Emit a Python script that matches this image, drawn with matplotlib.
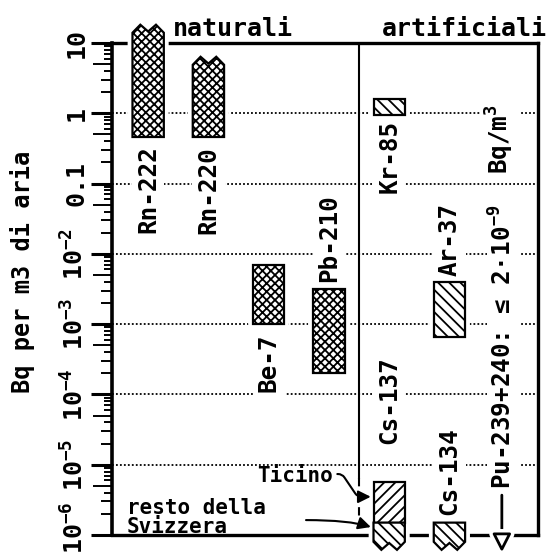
import matplotlib
matplotlib.use('Agg')
import matplotlib.pyplot as plt
import matplotlib.patheffects as pe
import matplotlib.transforms as mtransforms
from matplotlib.patches import Polygon
from matplotlib.ticker import NullLocator

plt.rcParams['font.family'] = ['DejaVu Sans Mono']
plt.rcParams['font.weight'] = 'bold'
plt.rcParams['mathtext.fontset'] = 'custom'
plt.rcParams['mathtext.rm'] = 'DejaVu Sans Mono:bold'
plt.rcParams['mathtext.it'] = 'DejaVu Sans Mono:bold'
plt.rcParams['mathtext.bf'] = 'DejaVu Sans Mono:bold'
plt.rcParams['hatch.linewidth'] = 1.3

# natural nuclides (Bq per m3)
nat_names = ['Rn-222', 'Rn-220', 'Be-7', 'Pb-210']
nat_lo = [0.46, 0.46, 1.0e-3, 2.0e-4]
nat_hi = [14, 4.9, 6.9e-3, 3.2e-3]
nat_open_top = [True, True, False, False]

# artificial nuclides
art_names = ['Kr-85', 'Ar-37']
art_lo = [0.95, 6.6e-4]
art_hi = [1.6, 4.0e-3]

cs_names = ['Cs-137', 'Cs-134']
cs137_ticino = [1.5e-6, 5.7e-6]
cs_rest_lo = [8.0e-7, 8.0e-7]     # below the scale
cs_rest_hi = [1.5e-6, 1.5e-6]

pu_label = 'Pu-239+240: ≤ 2·10$^{-9}$'

ytick_vals = [10, 1, 0.1, 1e-2, 1e-3, 1e-4, 1e-5, 1e-6]
ytick_labels = ['10', '1', '0.1', '10$^{-2}$', '10$^{-3}$',
                '10$^{-4}$', '10$^{-5}$', '10$^{-6}$']
grid_vals = [1, 0.1, 1e-2, 1e-3, 1e-4, 1e-5]

# layout
nat_x = [0, 1, 2, 3]
art_x = [4, 5]
pu_x = 5.87
bar_w = 0.52
zig = 0.114  # height of broken ends, in decades
nat_label_y = [0.084, 0.08, 2.8e-4, 0.0168]
art_label_y = [0.24, 0.016]
cs_label_y = [8.3e-5, 8.1e-6]
fs_lab = 17.5

fig = plt.figure(figsize=(5.46, 5.59), dpi=100)
ax = fig.add_axes([112 / 546, 24 / 559, 426 / 546, 492 / 559])
ax.set_yscale('log')
ax.set_ylim(1e-6, 10)
ax.set_xlim(-0.6, 6.47)
ax.set_xticks([])

for s in ax.spines.values():
    s.set_linewidth(2.4)
ax.spines['left'].set_linewidth(2.6)

ax.set_yticks(ytick_vals)
ax.set_yticklabels(ytick_labels, rotation=90, va='center', fontsize=18)
ax.yaxis.set_minor_locator(NullLocator())
ax.tick_params(axis='y', direction='out', length=15, width=2.2, pad=2)
# keep the bottom label inside the picture
last = ax.get_yticklabels()[-1]
last.set_transform(last.get_transform() +
                   mtransforms.ScaledTranslation(0, 5 / 72, fig.dpi_scale_trans))

# minor ticks drawn by hand, 5 longer than the rest
tick_len = {2: 11, 3: 11, 4: 8, 5: 19, 6: 8, 7: 8, 8: 8, 9: 8}
for k in range(-6, 1):
    for sub, L in tick_len.items():
        ax.hlines(sub * 10.0 ** k, -L / 426, 0, transform=ax.get_yaxis_transform(),
                  color='k', lw=1.4, clip_on=False)

for g in grid_vals:
    ax.axhline(g, color='k', lw=1.3, ls=(0, (1, 1.2)), zorder=1)

# divider natural | artificial
ax.plot([3.5, 3.5], [1, 0.116], transform=ax.get_xaxis_transform(), color='k', lw=1.5, zorder=2)
ax.plot([3.5, 3.5], [0.116, 0.02], transform=ax.get_xaxis_transform(), color='k', lw=1.5,
        ls=(0, (4, 3)), zorder=2)


def column(x, lo, hi, hatch, zig_top=False, zig_bot=False):
    w = bar_w / 2
    f = 10 ** zig
    pts = [(x - w, lo), (x - w, hi)]
    if zig_top:
        pts += [(x - w / 2, hi * f), (x, hi * f ** 0.15), (x + w / 2, hi * f)]
    pts += [(x + w, hi), (x + w, lo)]
    if zig_bot:
        pts += [(x + w / 2, lo / f), (x, lo / f ** 0.15), (x - w / 2, lo / f)]
    ax.add_patch(Polygon(pts, closed=True, fc='white', ec='white', lw=7,
                         joinstyle='round', zorder=4, clip_on=False))
    ax.add_patch(Polygon(pts, closed=True, fc='white', ec='black', hatch=hatch,
                         lw=1.6, zorder=5, clip_on=False))


label_box = dict(fc='white', ec='none', pad=3)

for x, lo, hi, top, name, ly in zip(nat_x, nat_lo, nat_hi, nat_open_top, nat_names, nat_label_y):
    column(x, lo, hi, 'xxxx', zig_top=top)
    ax.text(x, ly, name, rotation=90, ha='center', va='center', fontsize=fs_lab,
            bbox=label_box, zorder=3)

for x, lo, hi, name, ly in zip(art_x, art_lo, art_hi, art_names, art_label_y):
    column(x, lo, hi, '\\\\\\')
    ax.text(x, ly, name, rotation=90, ha='center', va='center', fontsize=fs_lab,
            bbox=label_box, zorder=3)

column(art_x[0], cs137_ticino[0], cs137_ticino[1], '///')
for x, lo, hi, name, ly in zip(art_x, cs_rest_lo, cs_rest_hi, cs_names, cs_label_y):
    column(x, lo, hi, '\\\\\\', zig_bot=True)
    ax.text(x, ly, name, rotation=90, ha='center', va='center', fontsize=fs_lab,
            bbox=label_box, zorder=3)

ax.text(5.84, 0.43, 'Bq/m$^3$', rotation=90, ha='center', va='center', fontsize=fs_lab,
        bbox=label_box, zorder=3)
ax.text(pu_x + 0.02, 4.8e-4, pu_label, rotation=90, ha='center', va='center', fontsize=fs_lab,
        bbox=dict(fc='white', ec='none', pad=2), zorder=3)

# Pu: below the scale
ax.annotate('', xy=(pu_x, -0.035), xytext=(pu_x, 0.081), xycoords=ax.get_xaxis_transform(),
            arrowprops=dict(arrowstyle='-|>,head_length=0.55,head_width=0.28', fc='white',
                            ec='k', lw=2, mutation_scale=20, shrinkA=0, shrinkB=0,
                            path_effects=[pe.Stroke(linewidth=7, foreground='white'), pe.Normal()]),
            annotation_clip=False, zorder=6)

# Ticino / resto della Svizzera
ax.annotate('Ticino', xy=(art_x[0] - bar_w / 2, 3.5e-6), xytext=(3.07, 6.9e-6),
            ha='right', va='center', fontsize=15,
            arrowprops=dict(arrowstyle='-|>,head_length=0.5,head_width=0.25', color='k', lw=1.5,
                            connectionstyle='arc,angleA=0,angleB=180,armA=9,armB=16,rad=4',
                            mutation_scale=15, shrinkA=1, shrinkB=2, relpos=(1.0, 0.6)),
            zorder=6)
ax.text(-0.35, 3.36e-6, 'resto della\nSvizzera', ha='left', va='top', fontsize=15,
        linespacing=0.95, zorder=6)
ax.annotate('', xy=(art_x[0] - bar_w / 2, 1.26e-6), xytext=(2.62, 1.63e-6),
            arrowprops=dict(arrowstyle='-|>,head_length=0.5,head_width=0.25', color='k', lw=1.5,
                            connectionstyle='angle3,angleA=0,angleB=160',
                            mutation_scale=15, shrinkA=0, shrinkB=2),
            zorder=6)

fig.text(173 / 546, 1 - 36 / 559, 'naturali', fontsize=18, ha='left', va='baseline')
fig.text(382 / 546, 1 - 36 / 559, 'artificiali', fontsize=18, ha='left', va='baseline')
fig.text(23 / 546, 1 - 272 / 559, 'Bq per m3 di aria', rotation=90, ha='center', va='center',
         fontsize=17)

fig.savefig('out.png', dpi=100)
